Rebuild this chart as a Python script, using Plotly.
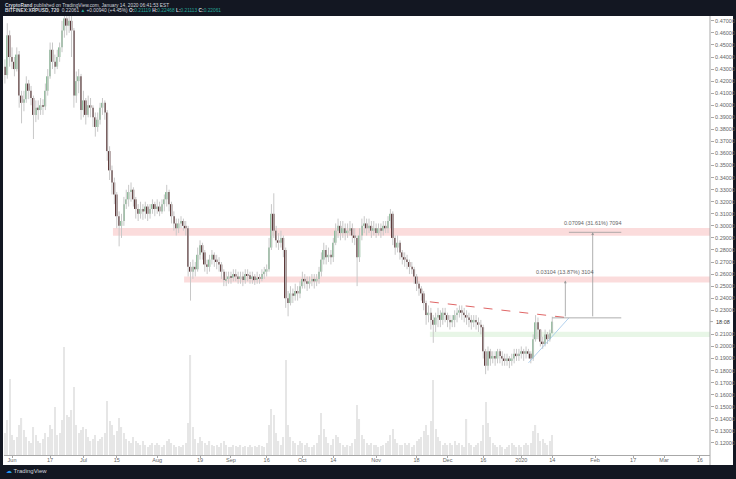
import pandas as pd
import plotly.graph_objects as go

# ---------------- data (daily candles) ----------------
START_DATE = "2019-05-27"
FIRST_OPEN = 0.425

CLOSE = [
    0.418, 0.432, 0.425, 0.458, 0.440,
    0.436, 0.430, 0.442, 0.408, 0.402, 0.405, 0.418, 0.412, 0.406, 0.392, 0.398, 0.396, 0.400, 0.399, 0.412,
    0.424, 0.446, 0.436, 0.432, 0.440, 0.448, 0.462, 0.472, 0.466, 0.470, 0.462, 0.408, 0.420, 0.424, 0.396,
    0.404, 0.392, 0.400, 0.398, 0.390, 0.382, 0.388, 0.398, 0.402, 0.394, 0.362, 0.346, 0.336, 0.326, 0.308,
    0.300, 0.304, 0.318, 0.322, 0.328, 0.330, 0.322, 0.314, 0.310, 0.314, 0.312, 0.316, 0.310, 0.314, 0.318, 0.314,
    0.316, 0.312, 0.318, 0.322, 0.328, 0.318, 0.308, 0.302, 0.298, 0.302, 0.304, 0.300, 0.298, 0.266, 0.262,
    0.266, 0.264, 0.276, 0.284, 0.278, 0.268, 0.266, 0.272, 0.276, 0.272, 0.270, 0.268, 0.262, 0.255, 0.256, 0.258,
    0.257, 0.260, 0.258, 0.256, 0.258, 0.255, 0.260, 0.259, 0.256, 0.258, 0.255, 0.257, 0.256, 0.260, 0.262,
    0.264, 0.282, 0.310, 0.296, 0.288, 0.286, 0.290, 0.280, 0.240, 0.236, 0.244, 0.242, 0.246, 0.244, 0.250,
    0.256, 0.254, 0.252, 0.254, 0.256, 0.254, 0.256, 0.262, 0.272, 0.280, 0.274, 0.276, 0.274, 0.286, 0.296,
    0.300, 0.294, 0.298, 0.294, 0.296, 0.298, 0.292, 0.290, 0.274, 0.292, 0.300, 0.302, 0.298, 0.300, 0.296, 0.298,
    0.294, 0.298, 0.296, 0.300, 0.298, 0.304, 0.310, 0.290, 0.282, 0.286, 0.278, 0.274, 0.272, 0.270, 0.266,
    0.264, 0.258, 0.252, 0.248, 0.244, 0.236, 0.226, 0.228, 0.222, 0.218, 0.224, 0.226, 0.222, 0.228, 0.226,
    0.222, 0.220, 0.222, 0.226, 0.228, 0.230, 0.228, 0.226, 0.224, 0.222, 0.220, 0.222, 0.220, 0.218, 0.216,
    0.196, 0.184, 0.196, 0.190, 0.192, 0.190, 0.196, 0.192, 0.190, 0.188, 0.190, 0.188, 0.190, 0.194, 0.192, 0.194,
    0.196, 0.194, 0.196, 0.194, 0.190, 0.206, 0.220, 0.214, 0.204, 0.202, 0.210, 0.206, 0.211, 0.2206,
]

HIGH = [
    0.438, 0.440, 0.438, 0.468, 0.462,
    0.448, 0.440, 0.448, 0.445, 0.412, 0.412, 0.424, 0.421, 0.416, 0.408, 0.404, 0.404, 0.406, 0.405, 0.418,
    0.430, 0.452, 0.452, 0.442, 0.446, 0.452, 0.470, 0.480, 0.478, 0.482, 0.476, 0.464, 0.428, 0.430, 0.426,
    0.412, 0.406, 0.408, 0.406, 0.400, 0.394, 0.394, 0.402, 0.406, 0.404, 0.396, 0.366, 0.350, 0.340, 0.328,
    0.312, 0.310, 0.324, 0.330, 0.334, 0.336, 0.332, 0.324, 0.318, 0.320, 0.318, 0.320, 0.318, 0.318, 0.322, 0.320,
    0.322, 0.320, 0.322, 0.326, 0.334, 0.330, 0.320, 0.312, 0.306, 0.306, 0.308, 0.306, 0.304, 0.300, 0.270,
    0.272, 0.270, 0.282, 0.288, 0.286, 0.280, 0.272, 0.276, 0.280, 0.278, 0.276, 0.274, 0.270, 0.264, 0.262, 0.262,
    0.262, 0.264, 0.264, 0.262, 0.262, 0.262, 0.264, 0.264, 0.262, 0.262, 0.260, 0.262, 0.260, 0.264, 0.266,
    0.268, 0.290, 0.318, 0.327, 0.300, 0.294, 0.296, 0.292, 0.282, 0.246, 0.250, 0.248, 0.252, 0.250, 0.254,
    0.262, 0.260, 0.258, 0.258, 0.260, 0.260, 0.260, 0.266, 0.278, 0.286, 0.284, 0.282, 0.280, 0.290, 0.302,
    0.306, 0.304, 0.304, 0.302, 0.302, 0.304, 0.302, 0.298, 0.292, 0.298, 0.306, 0.308, 0.306, 0.306, 0.304, 0.304,
    0.302, 0.302, 0.302, 0.304, 0.304, 0.308, 0.314, 0.312, 0.292, 0.292, 0.288, 0.280, 0.278, 0.276, 0.272,
    0.270, 0.266, 0.260, 0.254, 0.250, 0.246, 0.238, 0.234, 0.232, 0.226, 0.228, 0.232, 0.230, 0.232, 0.232,
    0.228, 0.226, 0.226, 0.230, 0.232, 0.234, 0.234, 0.232, 0.230, 0.228, 0.226, 0.226, 0.226, 0.224, 0.222,
    0.218, 0.198, 0.200, 0.198, 0.196, 0.196, 0.198, 0.198, 0.196, 0.194, 0.194, 0.192, 0.194, 0.198, 0.198, 0.198,
    0.200, 0.198, 0.200, 0.198, 0.196, 0.210, 0.226, 0.224, 0.214, 0.208, 0.214, 0.212, 0.214, 0.2247,
]

LOW = [
    0.411, 0.415, 0.418, 0.422, 0.432,
    0.430, 0.424, 0.428, 0.398, 0.385, 0.395, 0.402, 0.405, 0.400, 0.372, 0.386, 0.388, 0.392, 0.392, 0.396,
    0.408, 0.422, 0.430, 0.426, 0.430, 0.436, 0.444, 0.456, 0.458, 0.460, 0.440, 0.398, 0.402, 0.410, 0.388,
    0.390, 0.384, 0.390, 0.390, 0.382, 0.374, 0.378, 0.384, 0.392, 0.388, 0.354, 0.338, 0.326, 0.318, 0.298,
    0.283, 0.290, 0.300, 0.314, 0.316, 0.320, 0.316, 0.306, 0.304, 0.306, 0.305, 0.306, 0.304, 0.306, 0.310, 0.308,
    0.310, 0.308, 0.310, 0.312, 0.316, 0.312, 0.302, 0.296, 0.292, 0.294, 0.298, 0.296, 0.292, 0.258, 0.238,
    0.256, 0.258, 0.262, 0.272, 0.272, 0.262, 0.260, 0.262, 0.268, 0.266, 0.264, 0.262, 0.256, 0.250, 0.250, 0.252,
    0.252, 0.254, 0.254, 0.252, 0.252, 0.250, 0.252, 0.254, 0.252, 0.252, 0.251, 0.252, 0.252, 0.254, 0.256,
    0.258, 0.262, 0.280, 0.290, 0.282, 0.280, 0.282, 0.274, 0.232, 0.225, 0.234, 0.236, 0.238, 0.238, 0.240,
    0.248, 0.248, 0.246, 0.248, 0.250, 0.248, 0.250, 0.252, 0.258, 0.268, 0.268, 0.270, 0.268, 0.270, 0.284,
    0.290, 0.288, 0.290, 0.288, 0.290, 0.292, 0.286, 0.284, 0.250, 0.270, 0.288, 0.294, 0.292, 0.294, 0.290, 0.292,
    0.290, 0.292, 0.290, 0.292, 0.294, 0.294, 0.298, 0.284, 0.276, 0.278, 0.272, 0.268, 0.266, 0.264, 0.260,
    0.260, 0.252, 0.246, 0.242, 0.238, 0.230, 0.218, 0.220, 0.214, 0.203, 0.212, 0.216, 0.216, 0.218, 0.220,
    0.216, 0.214, 0.216, 0.216, 0.220, 0.224, 0.222, 0.220, 0.218, 0.216, 0.214, 0.216, 0.214, 0.212, 0.210,
    0.190, 0.177, 0.180, 0.184, 0.186, 0.184, 0.186, 0.186, 0.184, 0.184, 0.184, 0.182, 0.184, 0.186, 0.188, 0.188,
    0.190, 0.188, 0.190, 0.190, 0.186, 0.188, 0.204, 0.206, 0.200, 0.198, 0.200, 0.202, 0.204, 0.2111,
]

VOLUME = [
    50, 30, 22, 35, 76,
    20, 15, 18, 30, 37, 25, 18, 14, 12, 28, 20, 14, 12, 16, 22, 18, 30, 26, 48, 20,
    22, 35, 108, 40, 38, 45, 68, 30, 22, 25,
    28, 26, 18, 14, 16, 20, 14, 16, 18, 22, 54, 34, 30, 20, 24, 37, 28, 22, 16, 14,
    12, 18, 14, 12, 10, 14, 10, 8, 10, 12, 10,
    12, 10, 8, 10, 14, 16, 12, 10, 8, 9, 8, 10, 12, 32, 100, 28, 16, 12, 18, 14,
    12, 10, 14, 10, 9, 10, 8, 12, 14, 10, 8,
    8, 10, 9, 8, 10, 8, 9, 8, 10, 8, 9, 8, 10, 9, 8, 12, 30, 46, 40, 22,
    14, 10, 18, 95, 30, 18, 14, 12, 10, 14,
    12, 10, 12, 8, 8, 10, 12, 20, 42, 26, 18, 12, 10, 16, 20, 18, 12, 10, 8, 10,
    9, 12, 16, 50, 36, 20, 16, 12, 10, 12, 10,
    10, 8, 9, 10, 12, 14, 20, 26, 16, 12, 10, 10, 12, 10, 12, 8, 10, 14, 16, 18,
    24, 30, 20, 34, 75, 26, 18, 14, 10, 12,
    10, 12, 10, 14, 10, 12, 10, 8, 36, 12, 10, 8, 10, 12, 14, 30, 53, 32, 18, 12,
    10, 8, 10, 8, 6, 8, 10, 12, 10, 8, 10,
    8, 10, 12, 10, 12, 24, 30, 22, 14, 16, 12, 10, 14, 20,
]

X_TICK_DATES = ["2019-06-01", "2019-06-17", "2019-07-01", "2019-07-15", "2019-08-01", "2019-08-19",
                "2019-09-01", "2019-09-16", "2019-10-01", "2019-10-14", "2019-11-01", "2019-11-18",
                "2019-12-01", "2019-12-16", "2020-01-01", "2020-01-14", "2020-02-01", "2020-02-17",
                "2020-03-01", "2020-03-16"]
X_TICK_TEXT = ["Jun", "17", "Jul", "15", "Aug", "19", "Sep", "16", "Oct", "14", "Nov", "18",
               "Dec", "16", "2020", "14", "Feb", "17", "Mar", "16"]
# 0.22 is hidden behind the last-price label, as in the original
Y_TICKS = [0.12, 0.13, 0.14, 0.15, 0.16, 0.17, 0.18, 0.19, 0.20, 0.21, 0.23, 0.24, 0.25,
           0.26, 0.27, 0.28, 0.29, 0.30, 0.31, 0.32, 0.33, 0.34, 0.35, 0.36, 0.37, 0.38, 0.39,
           0.40, 0.41, 0.42, 0.43, 0.44, 0.45, 0.46, 0.47]
LAST_PRICE = 0.22061
LAST_LABEL = "18:08"

# drawings
RED_ZONES = [("2019-07-13 10:00", 0.2917, 0.2983), ("2019-08-12 07:00", 0.2530, 0.2580)]
GREEN_ZONE = ("2019-11-23 14:00", 0.2079, 0.2121)
RESIST_LINE = (["2019-11-23 14:00", "2020-01-21"], [0.2370, 0.2237])
SUPPORT_LINE = (["2020-01-04", "2020-01-21"], [0.1864, 0.2237])
BREAK_LEVEL = 0.2237
TARGET1 = 0.03104
TARGET2 = 0.07094

X_RANGE = ["2019-05-28 15:00", "2020-03-20 07:00"]
Y_RANGE = [0.110, 0.474]

# ---------------- figure ----------------
UP = "#8fbc9b"
DOWN = "#5e3a3b"
WICK = "#c8c8c8"
FONT = "Liberation Sans"
DAY_MS = 86400000

dates = pd.date_range(START_DATE, periods=len(CLOSE), freq="D")
opens = [FIRST_OPEN] + CLOSE[:-1]
body = [c - o for o, c in zip(opens, CLOSE)]
body_colors = [UP if c >= o else DOWN for o, c in zip(opens, CLOSE)]

wx, wy = [], []
for d, lo, hi in zip(dates, LOW, HIGH):
    wx += [d, d, None]
    wy += [lo, hi, None]

fig = go.Figure()
fig.add_trace(go.Bar(x=dates, y=VOLUME, yaxis="y2", marker=dict(color="#e6e6e6", line=dict(width=0)),
                     width=0.5 * DAY_MS, hoverinfo="skip"))
fig.add_trace(go.Scatter(x=wx, y=wy, mode="lines", line=dict(color=WICK, width=1), hoverinfo="skip"))
fig.add_trace(go.Bar(x=dates, y=body, base=opens, width=0.7 * DAY_MS,
                     marker=dict(color=body_colors, line=dict(width=0)), hoverinfo="skip"))
fig.add_trace(go.Scatter(x=RESIST_LINE[0], y=RESIST_LINE[1], mode="lines",
                         line=dict(color="#e06666", width=1, dash="dash"), hoverinfo="skip"))
fig.add_trace(go.Scatter(x=SUPPORT_LINE[0], y=SUPPORT_LINE[1], mode="lines",
                         line=dict(color="#9ec5ea", width=0.8), hoverinfo="skip"))

shapes = []
# white chart panel
shapes.append(dict(type="rect", xref="paper", yref="paper", x0=-0.0014, x1=1.0326, y0=-0.0228, y1=1.0,
                   fillcolor="white", line=dict(width=0), layer="below"))
for x0, y0, y1 in RED_ZONES:
    shapes.append(dict(type="rect", xref="x", yref="y", x0=x0, x1=X_RANGE[1], y0=y0, y1=y1,
                       fillcolor="rgba(240,110,110,0.24)", line=dict(width=0), layer="below"))
shapes.append(dict(type="rect", xref="x", yref="y", x0=GREEN_ZONE[0], x1=X_RANGE[1], y0=GREEN_ZONE[1],
                   y1=GREEN_ZONE[2], fillcolor="rgba(120,200,110,0.17)", line=dict(width=0), layer="below"))
# measurement lines
shapes.append(dict(type="line", xref="x", yref="y", x0="2020-01-14", x1="2020-02-12",
                   y0=BREAK_LEVEL, y1=BREAK_LEVEL, line=dict(color="#9a9a9a", width=0.8)))
shapes.append(dict(type="line", xref="x", yref="y", x0="2020-01-21", x1="2020-02-12",
                   y0=BREAK_LEVEL + TARGET2, y1=BREAK_LEVEL + TARGET2, line=dict(color="#9a9a9a", width=0.8)))
# right axis line across the whole panel
shapes.append(dict(type="line", xref="paper", yref="paper", x0=1, x1=1, y0=-0.0228, y1=1,
                   line=dict(color="#a8a8a8", width=1)))
# tick for last price
shapes.append(dict(type="line", xref="paper", yref="y", x0=1, x1=1.0042, y0=LAST_PRICE, y1=LAST_PRICE,
                   line=dict(color="#a8a8a8", width=1)))

small = dict(family=FONT, size=5.5, color="#666666")
annotations = [
    dict(x="2020-01-19 12:00", y=BREAK_LEVEL + TARGET1, ax="2020-01-19 12:00", ay=BREAK_LEVEL,
         xref="x", yref="y", axref="x", ayref="y", showarrow=True, arrowhead=2, arrowsize=0.7,
         arrowwidth=0.8, arrowcolor="#9a9a9a", text=""),
    dict(x="2020-01-31", y=BREAK_LEVEL + TARGET2, ax="2020-01-31", ay=BREAK_LEVEL,
         xref="x", yref="y", axref="x", ayref="y", showarrow=True, arrowhead=2, arrowsize=0.7,
         arrowwidth=0.8, arrowcolor="#9a9a9a", text=""),
    dict(x="2020-01-19 12:00", y=0.2615, xref="x", yref="y", showarrow=False,
         text="0.03104 (13.87%) 3104", font=small),
    dict(x="2020-01-31", y=0.3025, xref="x", yref="y", showarrow=False,
         text="0.07094 (31.61%) 7094", font=small),
    dict(x=1.0055, y=LAST_PRICE, xref="paper", yref="y", xanchor="left", showarrow=False,
         text=LAST_LABEL, font=dict(family=FONT, size=5.5, color="#333333")),
    dict(x=-0.0014, y=1.025, xref="paper", yref="paper", xanchor="left", yanchor="middle", showarrow=False,
         text="<b>CryptoRand</b> published on TradingView.com, January 14, 2020 06:41:53 EST",
         font=dict(family=FONT, size=4.8, color="#d1d4dc")),
    dict(x=-0.0014, y=1.0114, xref="paper", yref="paper", xanchor="left", yanchor="middle", showarrow=False,
         text="<b>BITFINEX:XRPUSD, 720</b>  0.22061 <span style='color:#26a69a'>▲</span> +0.00940 (+4.45%) "
              "<b>O:</b><span style='color:#26a69a'>0.21119</span> <b>H:</b><span style='color:#26a69a'>0.22468</span> "
              "<b>L:</b><span style='color:#26a69a'>0.21113</span> <b>C:</b><span style='color:#26a69a'>0.22061</span>",
         font=dict(family=FONT, size=4.8, color="#d1d4dc")),
    dict(x=0.0005, y=-0.0364, xref="paper", yref="paper", xanchor="left", yanchor="middle", showarrow=False,
         text="<span style='color:#2196f3'>☁</span> TradingView",
         font=dict(family=FONT, size=6, color="#d1d4dc")),
]

fig.update_layout(
    width=736, height=479,
    margin=dict(l=4, r=26, t=16, b=24, autoexpand=False),
    paper_bgcolor="#131722", plot_bgcolor="white",
    showlegend=False, shapes=shapes, annotations=annotations,
    barmode="overlay",
    xaxis=dict(type="date", range=X_RANGE, tickvals=X_TICK_DATES, ticktext=X_TICK_TEXT,
               showgrid=False, zeroline=False, showline=True, linecolor="#a8a8a8", linewidth=1,
               ticks="outside", ticklen=2, tickcolor="#a8a8a8", tickfont=small, ticklabelstandoff=-3,
               rangeslider=dict(visible=False), automargin=False),
    yaxis=dict(side="right", range=Y_RANGE, tickvals=Y_TICKS, ticktext=[f"{v:.5f}" for v in Y_TICKS],
               showgrid=False, zeroline=False, showline=False, ticks="outside", ticklen=3,
               tickcolor="#a8a8a8", tickfont=small, automargin=False),
    yaxis2=dict(overlaying="y", range=[0, 439], visible=False, fixedrange=True),
)

fig.write_html("out.html", config={"displayModeBar": False},
               post_script="document.body.style.margin='0';document.body.style.overflow='hidden';")
